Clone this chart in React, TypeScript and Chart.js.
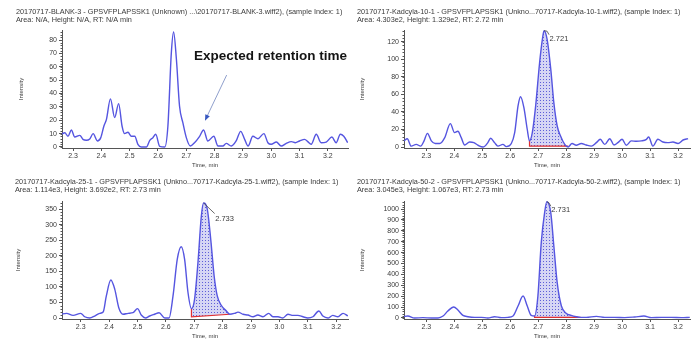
import React, { useEffect, useRef } from 'react';
import { Chart, registerables } from 'chart.js';

Chart.register(...registerables);

const FONT = '"Liberation Sans", Arial, Helvetica, sans-serif';
const LINE_COLOR = '#5555e0';
const TEXT_COLOR = '#3a3a3a';
const AXIS_COLOR = '#555555';

// ---------- Panel 1: BLANK-3 ----------
const blankTitle = [
  '20170717-BLANK-3 - GPSVFPLAPSSK1 (Unknown) ...\\20170717-BLANK-3.wiff2), (sample Index: 1)',
  'Area: N/A, Height: N/A, RT: N/A min',
];
const blankTime = [2.259, 2.271, 2.282, 2.294, 2.306, 2.324, 2.335, 2.347, 2.359, 2.371, 2.386, 2.398, 2.409, 2.418, 2.432, 2.447, 2.461, 2.473, 2.482, 2.494, 2.506, 2.518, 2.529, 2.541, 2.559, 2.571, 2.582, 2.592, 2.606, 2.624, 2.635, 2.647, 2.655, 2.665, 2.676, 2.688, 2.700, 2.714, 2.729, 2.747, 2.761, 2.776, 2.797, 2.812, 2.829, 2.841, 2.859, 2.876, 2.892, 2.906, 2.918, 2.935, 2.953, 2.974, 2.988, 3.000, 3.018, 3.035, 3.053, 3.071, 3.085, 3.100, 3.118, 3.129, 3.141, 3.159, 3.176, 3.194, 3.214, 3.229, 3.244, 3.256, 3.270];
const blankIntensity = [9.5, 10.7, 8, 12.7, 7.5, 8.7, 5.7, 5, 6, 10, 4.5, 7, 15.7, 20.7, 36, 22, 32.4, 15.7, 10, 11, 8, 8, 2, 0, 0, 5, 7, 9.5, 0.5, 0, 15.7, 70, 86, 65.6, 30.7, 18, 7, 0.7, 3.2, 8, 12.7, 4.5, 8, 0.7, 0.7, 2.7, 0.7, 4.5, 11.7, 5.7, 0.7, 8, 6.2, 10, 3.2, 2, 3.7, 0.7, 2.7, 4, 3.2, 4.5, 5.7, 4, 2, 9.5, 3.2, 3.7, 7.5, 3.2, 9.5, 8, 3.2];
const blankXRange = [2.261, 3.271];
const blankYRange = [-0.75, 87.5];
const blankYStep = 10;
const expectedLabel = 'Expected retention time';
const expectedArrowTip = [2.766, 19.7];
const expectedArrowTail = [2.8425, 53.8];
const expectedTextAt = [2.727, 68];

// ---------- Panel 2: Kadcyla-10-1 ----------
const k10Title = [
  '20170717-Kadcyla-10-1 - GPSVFPLAPSSK1 (Unkno...70717-Kadcyla-10-1.wiff2), (sample Index: 1)',
  'Area: 4.303e2, Height: 1.329e2, RT: 2.72 min',
];
const k10Time = [2.220, 2.232, 2.246, 2.264, 2.280, 2.292, 2.304, 2.318, 2.332, 2.348, 2.366, 2.386, 2.401, 2.413, 2.425, 2.437, 2.455, 2.470, 2.485, 2.503, 2.520, 2.530, 2.544, 2.556, 2.574, 2.586, 2.604, 2.616, 2.628, 2.637, 2.649, 2.661, 2.669, 2.679, 2.691, 2.705, 2.715, 2.721, 2.732, 2.745, 2.756, 2.768, 2.780, 2.795, 2.807, 2.821, 2.836, 2.854, 2.872, 2.890, 2.908, 2.922, 2.938, 2.956, 2.971, 2.985, 3.000, 3.015, 3.033, 3.051, 3.069, 3.087, 3.095, 3.110, 3.128, 3.146, 3.164, 3.182, 3.200, 3.218, 3.236];
const k10Intensity = [7, 9.5, 1, 3, 1, 7, 15.6, 7, 4, 4, 10.7, 26.7, 16.4, 18, 10.7, 2.3, 5.7, 5, 2, 0, 5, 10, 5, 1, 3, 0.4, 4, 16.4, 47, 57.5, 45, 20, 7, 16.4, 47, 96, 123, 132.9, 123, 89, 50.7, 24, 12.6, 3, 0, 4, 2, 4, 2.3, 1, 5, 8.8, 3, 9.5, 2.3, 5, 8.8, 2, 7, 6.5, 7, 8.8, 11.4, 1, 8.8, 5.7, 5, 5.7, 4, 8, 9.5];
const k10XRange = [2.2203, 3.2428];
const k10YRange = [-1.14, 133.7];
const k10YStep = 20;
const k10Integration = [2.669, 2.807];
const k10Baseline = [1, 1];
const k10PeakLabel = '2.721';

// ---------- Panel 3: Kadcyla-25-1 ----------
const k25Title = [
  '20170717-Kadcyla-25-1 - GPSVFPLAPSSK1 (Unkno...70717-Kadcyla-25-1.wiff2), (sample Index: 1)',
  'Area: 1.114e3, Height: 3.692e2, RT: 2.73 min',
];
const k25Time = [2.230, 2.250, 2.273, 2.300, 2.314, 2.332, 2.349, 2.367, 2.379, 2.390, 2.406, 2.420, 2.434, 2.449, 2.467, 2.484, 2.500, 2.514, 2.528, 2.543, 2.560, 2.576, 2.596, 2.611, 2.625, 2.640, 2.654, 2.666, 2.678, 2.690, 2.701, 2.713, 2.725, 2.733, 2.746, 2.758, 2.770, 2.781, 2.795, 2.813, 2.825, 2.842, 2.854, 2.872, 2.889, 2.907, 2.924, 2.942, 2.962, 2.977, 2.995, 3.012, 3.030, 3.048, 3.065, 3.083, 3.100, 3.118, 3.139, 3.153, 3.171, 3.188, 3.206, 3.224, 3.241];
const k25Intensity = [12, 15, 8.6, 15, 4, 0, 6.4, 15, 19, 70, 122, 92, 33, 12, 15, 17, 30, 8.6, 0, 6.4, 12, 17, 0, 0, 70, 188, 229, 188, 81, 30, 60, 178, 328, 369.2, 349, 253, 135, 71, 41, 22.5, 12, 15, 19, 12, 9.6, 4, 9.6, 4, 15, 4, 4, 0, 12, 8.6, 8.6, 4, 0, 4, 22.5, 6.4, 0, 8.6, 4, 15, 6.4];
const k25XRange = [2.234, 3.2416];
const k25YRange = [-3.2, 375.7];
const k25YStep = 50;
const k25Integration = [2.690, 2.825];
const k25Baseline = [4, 12];
const k25PeakLabel = '2.733';

// ---------- Panel 4: Kadcyla-50-2 ----------
const k50Title = [
  '20170717-Kadcyla-50-2 - GPSVFPLAPSSK1 (Unkno...70717-Kadcyla-50-2.wiff2), (sample Index: 1)',
  'Area: 3.045e3, Height: 1.067e3, RT: 2.73 min',
];
const k50Time = [2.217, 2.234, 2.258, 2.288, 2.318, 2.342, 2.360, 2.377, 2.398, 2.413, 2.431, 2.449, 2.473, 2.497, 2.520, 2.544, 2.568, 2.592, 2.610, 2.628, 2.646, 2.661, 2.675, 2.687, 2.699, 2.711, 2.723, 2.731, 2.745, 2.756, 2.768, 2.783, 2.800, 2.818, 2.836, 2.852, 2.872, 2.908, 2.938, 2.973, 3.009, 3.045, 3.078, 3.105, 3.140, 3.176, 3.212, 3.242];
const k50Intensity = [12, 18, 0, 3, 0, 0, 18, 64, 101, 73, 24, 12, 6, 6, 0, 12, 3, 6, 18, 110, 202, 110, 24, 18, 202, 691, 966, 1067, 966, 660, 324, 110, 43, 24, 12, 6, 6, 15, 6, 6, 3, 9, 18, 3, 6, 6, 3, 6];
const k50XRange = [2.2203, 3.2428];
const k50YRange = [-9.2, 1073.4];
const k50YStep = 100;
const k50Integration = [2.687, 2.852];
const k50Baseline = [5, 5];
const k50PeakLabel = '2.731';

type PanelCfg = {
  left: number; top: number; w: number; h: number;
  padLeft: number; padRight: number; titleBottom: number;
  yAxisW: number; xAxisH: number; yTitlePad: number; xTitlePad: number;
  title: string[]; time: number[]; intensity: number[];
  xRange: number[]; yRange: number[]; yStep: number;
  integration?: number[]; baseline?: number[];
  peakLabel?: string; labelOffset?: number[]; leader?: number[][];
  expected?: boolean;
};

const panels: PanelCfg[] = [
  {
    left: 0, top: 0, w: 350, h: 170, padLeft: 16, padRight: 2, titleBottom: 6,
    yAxisW: 46, xAxisH: 22, yTitlePad: 1.4, xTitlePad: 1.4,
    title: blankTitle, time: blankTime, intensity: blankIntensity,
    xRange: blankXRange, yRange: blankYRange, yStep: blankYStep, expected: true,
  },
  {
    left: 350, top: 0, w: 349, h: 170, padLeft: 7, padRight: 9, titleBottom: 6,
    yAxisW: 47, xAxisH: 22, yTitlePad: 1.4, xTitlePad: 1.4,
    title: k10Title, time: k10Time, intensity: k10Intensity,
    xRange: k10XRange, yRange: k10YRange, yStep: k10YStep,
    integration: k10Integration, baseline: k10Baseline, peakLabel: k10PeakLabel,
    labelOffset: [5.5, 8], leader: [[3, 0.5], [5, 4]],
  },
  {
    left: 0, top: 170, w: 350, h: 173, padLeft: 15, padRight: 2, titleBottom: 7,
    yAxisW: 47, xAxisH: 24, yTitlePad: 0, xTitlePad: 3.4,
    title: k25Title, time: k25Time, intensity: k25Intensity,
    xRange: k25XRange, yRange: k25YRange, yStep: k25YStep,
    integration: k25Integration, baseline: k25Baseline, peakLabel: k25PeakLabel,
    labelOffset: [11.5, 15.5], leader: [[11, 10.5]],
  },
  {
    left: 350, top: 170, w: 349, h: 173, padLeft: 7, padRight: 9, titleBottom: 7,
    yAxisW: 47, xAxisH: 24, yTitlePad: 1.7, xTitlePad: 3.4,
    title: k50Title, time: k50Time, intensity: k50Intensity,
    xRange: k50XRange, yRange: k50YRange, yStep: k50YStep,
    integration: k50Integration, baseline: k50Baseline, peakLabel: k50PeakLabel,
    labelOffset: [4.5, 8.5], leader: [[2, 1], [4, 4.5]],
  },
];

function makePattern(): CanvasPattern | string {
  const c = document.createElement('canvas');
  c.width = 3; c.height = 3;
  const g = c.getContext('2d');
  if (!g) return 'rgba(120,120,220,0.35)';
  g.fillStyle = '#d6d6f4';
  g.fillRect(0, 0, 3, 3);
  g.fillStyle = '#5e5ed8';
  g.fillRect(1, 1, 1, 1);
  const p = g.createPattern(c, 'repeat');
  return p || 'rgba(120,120,220,0.35)';
}

function Panel({ cfg }: { cfg: PanelCfg }) {
  const ref = useRef<HTMLCanvasElement>(null);
  useEffect(() => {
    const canvas = ref.current;
    if (!canvas) return;
    const pts = cfg.time.map((t, i) => ({ x: t, y: cfg.intensity[i] }));
    const datasets: any[] = [
      {
        data: pts, borderColor: LINE_COLOR, borderWidth: 1.4, pointRadius: 0,
        tension: 0.4, cubicInterpolationMode: 'monotone', fill: false,
      },
    ];
    if (cfg.integration && cfg.baseline) {
      const [s, e] = cfg.integration;
      const [b0, b1] = cfg.baseline;
      const startIdx = cfg.time.findIndex((t) => Math.abs(t - s) < 1e-6);
      const startVal = startIdx >= 0 ? cfg.intensity[startIdx] : b0;
      datasets.push({
        data: [{ x: s, y: startVal }, { x: s, y: b0 }, { x: e, y: b1 }],
        borderColor: '#e03030', borderWidth: 1.2, pointRadius: 0, tension: 0, fill: false,
      });
      datasets.push({
        data: pts.filter((p) => p.x >= s - 1e-9 && p.x <= e + 1e-9),
        borderColor: 'rgba(0,0,0,0)', borderWidth: 0, pointRadius: 0,
        tension: 0.4, cubicInterpolationMode: 'monotone',
        backgroundColor: makePattern(), fill: 3,
      });
      datasets.push({
        data: [{ x: s, y: b0 }, { x: e, y: b1 }],
        borderColor: 'rgba(0,0,0,0)', borderWidth: 0, pointRadius: 0, fill: false,
      });
    }

    const annotate = {
      id: 'annotate',
      afterDatasetsDraw(chart: any) {
        const { ctx, scales } = chart;
        const xs = scales.x, ys = scales.y;
        ctx.save();
        // minor ticks on the intensity axis
        const minor = cfg.yStep / 5;
        ctx.strokeStyle = AXIS_COLOR;
        ctx.lineWidth = 1;
        ctx.beginPath();
        for (let v = 0; v <= cfg.yRange[1] + 1e-9; v += minor) {
          const yy = Math.round(ys.getPixelForValue(v)) + 0.5;
          ctx.moveTo(xs.left - 1.5, yy);
          ctx.lineTo(xs.left, yy);
        }
        ctx.stroke();

        if (cfg.peakLabel && cfg.labelOffset) {
          let mi = 0;
          cfg.intensity.forEach((v, i) => { if (v > cfg.intensity[mi]) mi = i; });
          const px = xs.getPixelForValue(cfg.time[mi]);
          const py = ys.getPixelForValue(cfg.intensity[mi]);
          ctx.strokeStyle = '#444';
          ctx.lineWidth = 0.8;
          ctx.beginPath();
          ctx.moveTo(px, py);
          (cfg.leader || []).forEach(([dx, dy]) => ctx.lineTo(px + dx, py + dy));
          ctx.stroke();
          ctx.fillStyle = TEXT_COLOR;
          ctx.font = `7.5px ${FONT}`;
          ctx.textBaseline = 'middle';
          ctx.textAlign = 'left';
          ctx.fillText(cfg.peakLabel, px + cfg.labelOffset[0], py + cfg.labelOffset[1]);
        }
        if (cfg.expected) {
          const tx = xs.getPixelForValue(expectedArrowTip[0]);
          const ty = ys.getPixelForValue(expectedArrowTip[1]);
          const sx = xs.getPixelForValue(expectedArrowTail[0]);
          const sy = ys.getPixelForValue(expectedArrowTail[1]);
          const ang = Math.atan2(ty - sy, tx - sx);
          ctx.strokeStyle = '#8f9fcc';
          ctx.lineWidth = 1;
          ctx.beginPath();
          ctx.moveTo(sx, sy);
          ctx.lineTo(tx - Math.cos(ang) * 4, ty - Math.sin(ang) * 4);
          ctx.stroke();
          ctx.fillStyle = '#3858c0';
          ctx.beginPath();
          ctx.moveTo(tx, ty);
          ctx.lineTo(tx - Math.cos(ang) * 6 + Math.sin(ang) * 2.5, ty - Math.sin(ang) * 6 - Math.cos(ang) * 2.5);
          ctx.lineTo(tx - Math.cos(ang) * 6 - Math.sin(ang) * 2.5, ty - Math.sin(ang) * 6 + Math.cos(ang) * 2.5);
          ctx.closePath();
          ctx.fill();
          ctx.fillStyle = '#141414';
          ctx.font = `bold 13.5px ${FONT}`;
          ctx.textBaseline = 'middle';
          ctx.textAlign = 'left';
          ctx.fillText(expectedLabel, xs.getPixelForValue(expectedTextAt[0]), ys.getPixelForValue(expectedTextAt[1]));
        }
        ctx.restore();
      },
    };

    const chart = new Chart(canvas, {
      type: 'line',
      data: { datasets },
      plugins: [annotate],
      options: {
        responsive: false,
        animation: false,
        devicePixelRatio: 1,
        layout: { padding: { left: cfg.padLeft, right: cfg.padRight, top: 0, bottom: 0 } },
        plugins: {
          legend: { display: false },
          tooltip: { enabled: false },
          title: {
            display: true,
            text: cfg.title,
            align: 'start',
            color: TEXT_COLOR,
            font: { family: FONT, size: 7.3, weight: 'normal', lineHeight: '8px' },
            padding: { top: 8, bottom: cfg.titleBottom },
          },
        },
        scales: {
          x: {
            type: 'linear',
            min: cfg.xRange[0],
            max: cfg.xRange[1],
            ticks: {
              stepSize: 0.1, autoSkip: false, maxRotation: 0, minRotation: 0, includeBounds: false,
              callback: (v: any) => Number(v).toFixed(1),
              font: { family: FONT, size: 7 }, color: TEXT_COLOR, padding: 1,
            },
            grid: { drawOnChartArea: false, drawTicks: true, tickLength: 3, color: AXIS_COLOR },
            border: { display: true, color: AXIS_COLOR, width: 1 },
            title: {
              display: true, text: 'Time, min', color: TEXT_COLOR,
              font: { family: FONT, size: 6 }, padding: { top: 0, bottom: cfg.xTitlePad },
            },
            afterFit: (s: any) => { s.height = cfg.xAxisH; },
          },
          y: {
            type: 'linear',
            min: cfg.yRange[0],
            max: cfg.yRange[1],
            ticks: {
              stepSize: cfg.yStep, includeBounds: false,
              callback: (v: any) => String(Math.round(Number(v))),
              font: { family: FONT, size: 7 }, color: TEXT_COLOR, padding: 2,
            },
            grid: { drawOnChartArea: false, drawTicks: true, tickLength: 3, color: AXIS_COLOR },
            border: { display: true, color: AXIS_COLOR, width: 1 },
            title: {
              display: true, text: 'Intensity', color: TEXT_COLOR,
              font: { family: FONT, size: 6 }, padding: { top: cfg.yTitlePad, bottom: 0 },
            },
            afterFit: (s: any) => { s.width = cfg.yAxisW; },
          },
        },
      } as any,
    });
    return () => chart.destroy();
  }, [cfg]);
  return (
    <canvas
      ref={ref}
      width={cfg.w}
      height={cfg.h}
      style={{ position: 'absolute', left: cfg.left, top: cfg.top, width: cfg.w, height: cfg.h }}
    />
  );
}

export default function App() {
  return (
    <div style={{ position: 'absolute', left: 0, top: 0, width: 699, height: 343, background: '#ffffff', overflow: 'hidden' }}>
      {panels.map((p, i) => (
        <Panel key={i} cfg={p} />
      ))}
    </div>
  );
}
